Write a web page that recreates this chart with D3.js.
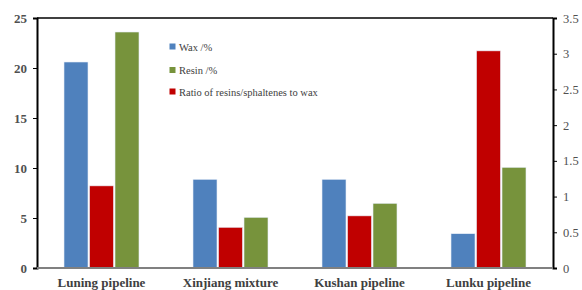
<!DOCTYPE html>
<html>
<head>
<meta charset="utf-8">
<script src="https://cdn.jsdelivr.net/npm/d3@7"></script>
<style>
  body { margin: 0; background: #fff; }
  svg text { font-family: 'Liberation Serif', 'Times New Roman', serif; }
</style>
</head>
<body>
<div id="chart"></div>
<script>
// categories and series
var categories = ["Luning pipeline", "Xinjiang mixture", "Kushan pipeline", "Lunku pipeline"];
var wax = [20.6, 8.87, 8.87, 3.43];
var resin = [23.6, 5.07, 6.47, 10.07];
var ratio = [1.15, 0.57, 0.73, 3.04];
var leftTicks = [0, 5, 10, 15, 20, 25];
var rightTicks = [0, 0.5, 1, 1.5, 2, 2.5, 3, 3.5];
var legendLabels = ["Wax /%", "Resin /%", "Ratio of resins/sphaltenes to wax"];

function draw()
{
  var w = 582;
  var h = 290;
  var margin = {left: 37, right: 29, top: 18, bottom: 22};

  var svg = d3.select("#chart")
              .append("svg")
              .attr("width", w)
              .attr("height", h);

  var x = d3.scaleBand()
            .domain(categories)
            .range([margin.left, w - margin.right]);

  var yL = d3.scaleLinear().domain([0, 25]).range([h - margin.bottom, margin.top]);
  var yR = d3.scaleLinear().domain([0, 3.5]).range([h - margin.bottom, margin.top]);

  var barW = 24;
  var step = 25.5;
  var colors = {wax: "#4F81BD", ratio: "#C00000", resin: "#77933C"};

  // bars: blue, red, green
  var series = [
    {key: "wax", vals: wax, scale: yL, off: -1},
    {key: "ratio", vals: ratio, scale: yR, off: 0},
    {key: "resin", vals: resin, scale: yL, off: 1}
  ];

  series.forEach(function(s) {
    svg.selectAll("rect." + s.key)
       .data(categories)
       .enter()
       .append("rect")
       .attr("class", s.key)
       .attr("x", function(d) { return x(d) + x.bandwidth()/2 + s.off*step - barW/2; })
       .attr("width", barW)
       .attr("y", function(d, i) { return s.scale(s.vals[i]); })
       .attr("height", function(d, i) { return s.scale(0) - s.scale(s.vals[i]); })
       .attr("fill", colors[s.key])
       .attr("stroke", "#e8eef8")
       .attr("stroke-width", 0.6);
  });

  // top border
  svg.append("line")
     .attr("x1", margin.left).attr("x2", w - margin.right)
     .attr("y1", margin.top).attr("y2", margin.top)
     .attr("stroke", "#000").attr("stroke-width", 1.5);

  // left axis
  var axL = svg.append("g")
               .attr("transform", "translate(" + margin.left + ",0)")
               .call(d3.axisLeft(yL).tickValues(leftTicks).tickSize(4).tickPadding(6));
  // right axis
  var axR = svg.append("g")
               .attr("transform", "translate(" + (w - margin.right) + ",0)")
               .call(d3.axisRight(yR).tickValues(rightTicks).tickSize(4).tickPadding(6)
                       .tickFormat(function(d) { return d; }));

  [axL, axR].forEach(function(ax) {
    ax.attr("font-family", null);
    ax.select(".domain").attr("stroke", "#000").attr("stroke-width", 2);
    ax.selectAll(".tick line").attr("stroke", "#000");
  });
  axL.selectAll("text")
     .style("font-size", "13px")
     .style("font-weight", "bold")
     .attr("fill", "#505050");
  axR.selectAll("text")
     .style("font-size", "12.5px")
     .attr("fill", "#505050");

  // bottom axis (gray)
  svg.append("line")
     .attr("x1", margin.left).attr("x2", w - margin.right)
     .attr("y1", yL(0)).attr("y2", yL(0))
     .attr("stroke", "#808080").attr("stroke-width", 2);

  // category labels
  svg.selectAll("text.cat")
     .data(categories)
     .enter()
     .append("text")
     .attr("class", "cat")
     .attr("x", function(d) { return x(d) + x.bandwidth()/2; })
     .attr("y", 287)
     .attr("text-anchor", "middle")
     .style("font-size", "13px")
     .style("font-weight", "bold")
     .attr("fill", "#404040")
     .text(function(d) { return d; });

  // legend
  var legColors = [colors.wax, colors.resin, colors.ratio];
  var leg = svg.selectAll("g.leg")
               .data(legendLabels)
               .enter()
               .append("g")
               .attr("class", "leg")
               .attr("transform", function(d, i) { return "translate(172," + [47, 70.5, 92][i] + ")"; });
  leg.append("rect")
     .attr("x", -2.5).attr("y", -3.5)
     .attr("width", 6).attr("height", 6)
     .attr("fill", function(d, i) { return legColors[i]; });
  leg.append("text")
     .attr("x", 7)
     .attr("y", 3.5)
     .style("font-size", "10.5px")
     .attr("fill", "#404040")
     .text(function(d) { return d; });
}

window.onload = draw;
</script>
</body>
</html>
